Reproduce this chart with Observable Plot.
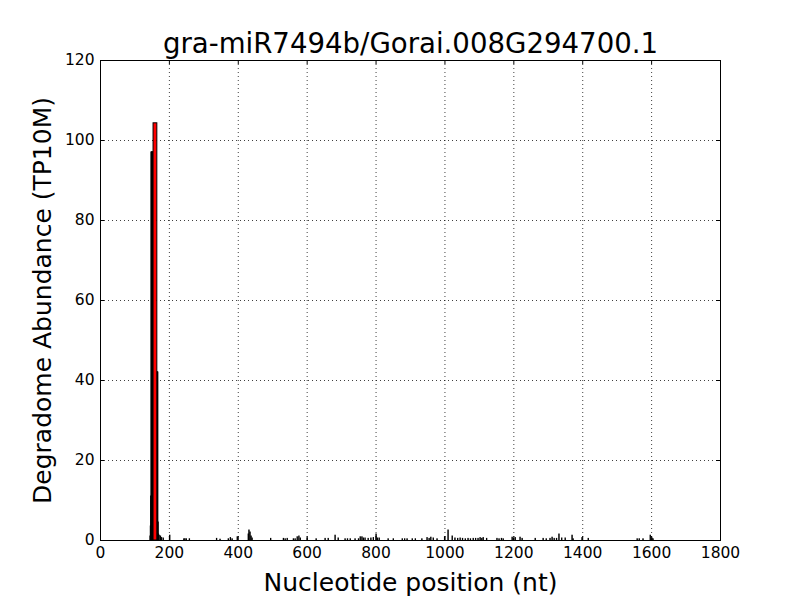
<!DOCTYPE html>
<html>
<head>
<meta charset="utf-8">
<script src="https://cdn.jsdelivr.net/npm/d3@7"></script>
<script src="https://cdn.jsdelivr.net/npm/@observablehq/plot@0.6"></script>
<style>
  html, body { margin: 0; padding: 0; background: #fff; }
  svg { display: block; }
</style>
</head>
<body>
<div id="chart"></div>
<script>
const titleText = "gra-miR7494b/Gorai.008G294700.1";
const xLabel = "Nucleotide position (nt)";
const yLabel = "Degradome Abundance (TP10M)";

const xTicks = [0, 200, 400, 600, 800, 1000, 1200, 1400, 1600, 1800];
const yTicks = [0, 20, 40, 60, 80, 100, 120];

// degradome read positions (nt) and abundance (TP10M)
const positions = [
  145, 146, 147, 148, 149, 150, 151, 152, 153, 165, 166, 167, 168, 169, 171, 175, 178, 183,
  202, 243, 246, 250, 259, 338, 348, 372, 378, 383, 398,
  430, 432, 435, 438, 441,
  495, 532, 537, 543, 561, 566, 572, 577, 581, 601, 627, 653, 662, 682, 691, 711, 718, 726, 740, 750,
  755, 760, 764, 769, 778, 786, 793, 801, 805, 810, 836, 851, 877, 884, 891, 906, 915, 934,
  949, 955, 960, 967, 978, 1000, 1010, 1022, 1030, 1038, 1045, 1052, 1060, 1068, 1075, 1083, 1090, 1097,
  1103, 1108, 1112, 1122, 1152, 1158, 1165, 1170, 1196, 1200, 1205, 1219, 1225, 1263, 1286, 1295, 1306,
  1312, 1318, 1325, 1332, 1340, 1350, 1370, 1373, 1399, 1417, 1559, 1565, 1576, 1597, 1602, 1605
];
const values = [
  1.0, 3.5, 11, 97, 97, 97, 97, 97, 97, 42, 42, 42, 4.5, 1.5, 1.2, 1.0, 0.6, 0.5,
  1.2, 0.3, 0.3, 0.3, 0.3, 0.4, 0.2, 0.3, 0.6, 0.3, 0.8,
  1.5, 2.5, 2.0, 1.0, 0.5,
  0.4, 0.4, 0.3, 0.4, 0.3, 0.3, 0.8, 1.0, 0.5, 0.5, 0.3, 0.4, 0.4, 1.2, 0.5, 0.3, 0.3, 0.3, 0.3, 0.3,
  0.8, 0.8, 0.5, 0.5, 0.4, 0.5, 0.6, 1.5, 0.5, 0.5, 0.3, 0.3, 0.3, 0.3, 0.3, 0.3, 0.3, 0.3,
  0.6, 0.4, 0.7, 0.5, 0.3, 0.8, 2.5, 1.0, 0.5, 0.4, 0.5, 0.4, 0.3, 0.4, 0.3, 0.4, 0.4, 0.4,
  0.6, 0.4, 0.6, 0.4, 0.4, 0.3, 0.4, 0.3, 0.7, 0.4, 0.6, 0.7, 0.4, 0.4, 0.4, 0.3, 0.4,
  0.7, 0.4, 0.4, 1.5, 0.5, 0.5, 1.2, 0.3, 0.6, 0.4, 0.3, 0.3, 0.3, 1.2, 0.5, 0.3
];

// predicted cleavage site (highlighted in red)
const cleaveStart = [154];
const cleaveEnd = [165];
const cleaveValue = [104.3];

const bars = positions.map((p, i) => ({start: p, end: p + 1, value: values[i]}));
const cleave = cleaveStart.map((s, i) => ({start: s, end: cleaveEnd[i], value: cleaveValue[i]}));

const font = "DejaVu Sans";
const gridX = xTicks.slice(1, -1);
const gridY = yTicks.slice(1, -1);

const chart = Plot.plot({
  width: 800,
  height: 600,
  marginLeft: 100,
  marginRight: 80,
  marginTop: 60,
  marginBottom: 60,
  style: {background: "#fff", fontFamily: font, color: "black"},
  x: {domain: [0, 1800], axis: null},
  y: {domain: [0, 120], axis: null},
  marks: [
    Plot.ruleX(gridX, {x: d => d, stroke: "black", strokeWidth: 1, strokeDasharray: "1,3", strokeOpacity: 0.75}),
    Plot.ruleY(gridY, {y: d => d, stroke: "black", strokeWidth: 1, strokeDasharray: "1,3", strokeOpacity: 0.75}),
    Plot.rectY(bars, {x1: "start", x2: "end", y: "value", fill: "black", stroke: "black", strokeWidth: 1}),
    Plot.rectY(cleave, {x1: "start", x2: "end", y: "value", fill: "red", stroke: "black", strokeWidth: 1}),
    Plot.frame({stroke: "black", strokeWidth: 1}),
    Plot.tickX(xTicks, {x: d => d, stroke: "black", insetTop: 476}),
    Plot.tickX(xTicks, {x: d => d, stroke: "black", insetBottom: 476}),
    Plot.tickY(yTicks, {y: d => d, stroke: "black", insetRight: 616}),
    Plot.tickY(yTicks, {y: d => d, stroke: "black", insetLeft: 616}),
    Plot.text(xTicks, {x: d => d, text: d => String(d), frameAnchor: "bottom", textAnchor: "middle", lineAnchor: "top", dy: 6, fontSize: 15.5, fontFamily: font, fill: "black"}),
    Plot.text(yTicks, {y: d => d, text: d => String(d), frameAnchor: "left", textAnchor: "end", dx: -6, fontSize: 15.5, fontFamily: font, fill: "black"}),
    Plot.text([titleText], {text: d => d, frameAnchor: "top", textAnchor: "middle", lineAnchor: "bottom", dy: -8, fontSize: 27.6, fontFamily: font, fill: "black"}),
    Plot.text([xLabel], {text: d => d, frameAnchor: "bottom", textAnchor: "middle", lineAnchor: "bottom", dy: 50, fontSize: 25, fontFamily: font, fill: "black"}),
    Plot.text([yLabel], {text: d => d, frameAnchor: "left", textAnchor: "middle", lineAnchor: "middle", rotate: -90, dx: -58, fontSize: 25, fontFamily: font, fill: "black"})
  ]
});
document.getElementById("chart").appendChild(chart);
</script>
</body>
</html>
